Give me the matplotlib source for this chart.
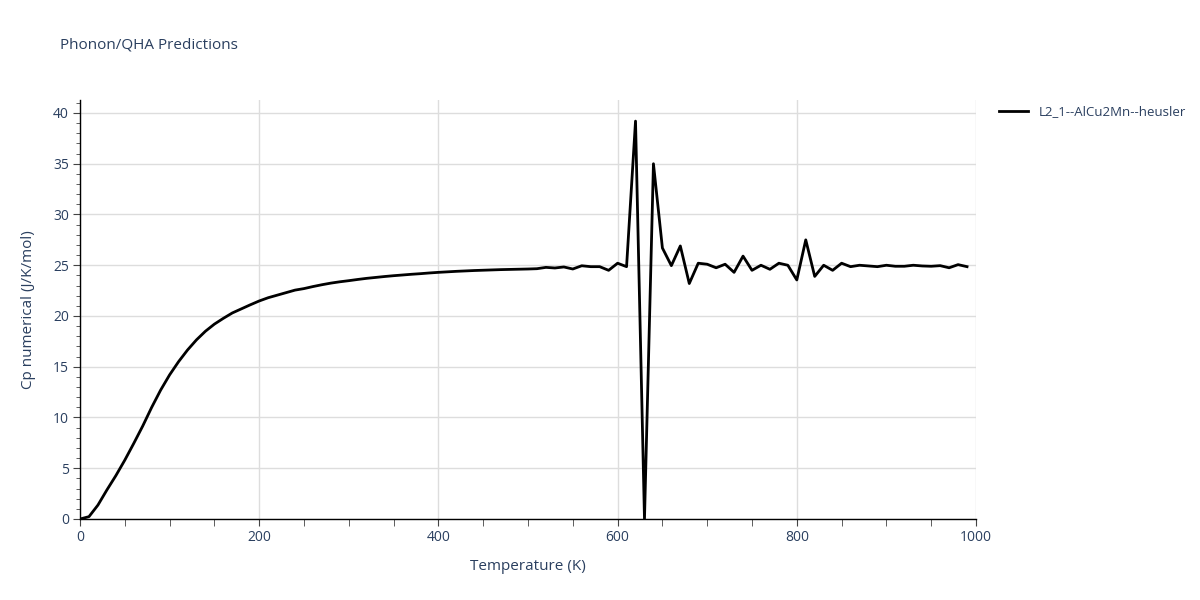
import matplotlib
matplotlib.use("Agg")
import matplotlib.pyplot as plt
from matplotlib.ticker import MultipleLocator

plt.rcParams['font.family'] = ['Open Sans', 'DejaVu Sans']

# temperature grid (K) and heat capacity
temps = list(range(0, 1000, 10))
cp = [
    0.0, 0.23, 1.37, 2.86, 4.27, 5.8, 7.45, 9.16, 11.0, 12.7,
    14.2, 15.5, 16.65, 17.65, 18.5, 19.2, 19.77, 20.3, 20.7, 21.1,
    21.48, 21.8, 22.05, 22.3, 22.55, 22.7, 22.9, 23.08, 23.24, 23.37,
    23.48, 23.6, 23.71, 23.8, 23.89, 23.97, 24.04, 24.11, 24.17, 24.24,
    24.3, 24.35, 24.4, 24.44, 24.48, 24.51, 24.54, 24.57, 24.59, 24.61,
    24.63, 24.66, 24.79, 24.73, 24.83, 24.63, 24.95, 24.86, 24.86, 24.5,
    25.2, 24.86, 39.2, 0.0, 35.0, 26.7, 24.96, 26.9, 23.2, 25.2,
    25.1, 24.75, 25.1, 24.3, 25.9, 24.5, 25.0, 24.6, 25.2, 25.0,
    23.55, 27.5, 23.9, 25.0, 24.5, 25.2, 24.86, 25.0, 24.93, 24.86,
    25.0, 24.9, 24.9, 25.0, 24.93, 24.9, 24.96, 24.75, 25.06, 24.86,
]
label = "L2_1--AlCu2Mn--heusler"

txt = "#2a3f5f"
grid = "#dddddd"

fig = plt.figure(figsize=(12, 6), dpi=100)
ax = fig.add_axes([80 / 1200, 1 - 519 / 600, 896 / 1200, 419 / 600])

ax.plot(temps, cp, color="black", lw=2, label=label)

ax.set_xlim(0, 1000)
ax.set_ylim(0, 41.28)
ax.xaxis.set_major_locator(MultipleLocator(200))
ax.xaxis.set_minor_locator(MultipleLocator(50))
ax.yaxis.set_major_locator(MultipleLocator(5))
ax.yaxis.set_minor_locator(MultipleLocator(1))

ax.grid(True, which="major", color=grid, lw=1)
ax.set_axisbelow(True)
for s in ["top", "right"]:
    ax.spines[s].set_visible(False)
for s in ["left", "bottom"]:
    ax.spines[s].set_color("black")
    ax.spines[s].set_linewidth(1)

ax.tick_params(which="major", length=5, color="#444444", labelcolor=txt, labelsize=10, pad=3)
ax.tick_params(which="minor", length=3, color="#444444")
ax.tick_params(axis="x", which="minor", length=5)

ax.set_xlabel("Temperature (K)", color=txt, fontsize=11, labelpad=10)
ax.set_ylabel("Cp numerical (J/K/mol)", color=txt, fontsize=11, labelpad=12)

fig.text(60 / 1200, 1 - 45 / 600, "Phonon/QHA Predictions", color=txt, fontsize=11, va="center")

leg = ax.legend(loc="upper left", bbox_to_anchor=(1.02, 1.0), frameon=False,
                fontsize=9.5, handlelength=2.2, borderaxespad=0)
for t in leg.get_texts():
    t.set_color(txt)

fig.savefig("out.png", dpi=100)
